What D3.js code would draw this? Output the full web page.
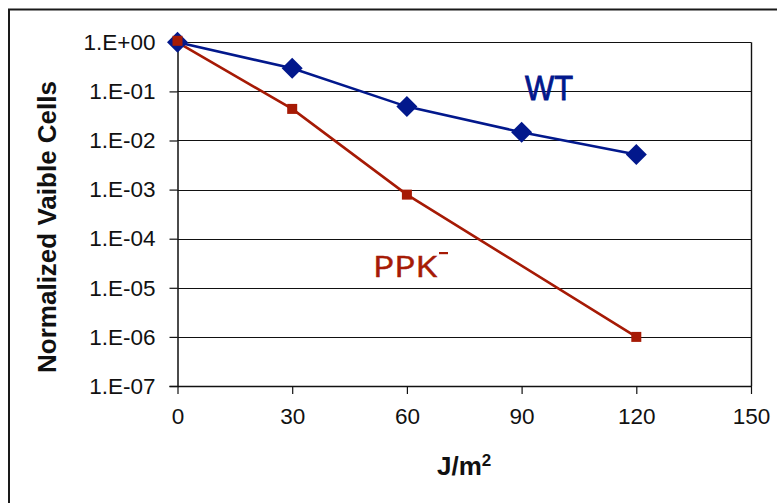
<!DOCTYPE html>
<html>
<head>
<meta charset="utf-8">
<script src="https://cdn.jsdelivr.net/npm/d3@7"></script>
<style>
  html, body { margin: 0; padding: 0; background: #fff; }
  svg { display: block; }
</style>
</head>
<body>
<svg id="chart" width="777" height="503"></svg>
<script>
// UV dose (J/m²) and survival fractions
const doses = [0, 30, 60, 90, 120];
const wtValues = [1, 0.295, 0.049, 0.0147, 0.0052];
const ppkDoses = [0, 30, 60, 120];
const ppkValues = [1, 0.044, 0.00079, 0.000001];

const xTicks = [0, 30, 60, 90, 120, 150];
const yTicks = [1, 1e-1, 1e-2, 1e-3, 1e-4, 1e-5, 1e-6, 1e-7];
const yTickLabels = ["1.E+00", "1.E-01", "1.E-02", "1.E-03", "1.E-04", "1.E-05", "1.E-06", "1.E-07"];

const blue = "#02188c";
const red = "#a61a05";

const svg = d3.select("#chart");
const x = d3.scaleLinear().domain([0, 150]).range([177.5, 751]);
const y = d3.scaleLog().domain([1e-7, 1]).range([386, 42.3]);

// outer frame
svg.append("rect")
  .attr("x", 9).attr("y", 9.5)
  .attr("width", 800).attr("height", 520)
  .attr("fill", "none").attr("stroke", "#1a1a1a").attr("stroke-width", 2);

// horizontal gridlines
svg.append("g").selectAll("line").data(yTicks.slice(0, -1)).join("line")
  .attr("x1", x(0)).attr("x2", x(150))
  .attr("y1", d => Math.round(y(d)) + 0.5).attr("y2", d => Math.round(y(d)) + 0.5)
  .attr("stroke", "#111").attr("stroke-width", 1.2);

// right border of plot area
svg.append("line")
  .attr("x1", x(150) + 0.5).attr("x2", x(150) + 0.5)
  .attr("y1", y(1)).attr("y2", y(1e-7))
  .attr("stroke", "#111").attr("stroke-width", 1.4);

// y axis
const yAxis = d3.axisLeft(y)
  .tickValues(yTicks)
  .tickFormat((d, i) => yTickLabels[i])
  .tickSize(8).tickPadding(14);
const gy = svg.append("g").attr("transform", `translate(${x(0)},0)`).call(yAxis);
gy.select(".domain").attr("stroke", "#111").attr("stroke-width", 1.5);
gy.selectAll(".tick line").attr("stroke", "#111").attr("stroke-width", 1.2);
gy.selectAll(".tick text")
  .attr("font-family", "'Liberation Sans', Arial, sans-serif")
  .attr("font-size", 22.5).attr("fill", "#111");

// x axis
const xAxis = d3.axisBottom(x)
  .tickValues(xTicks)
  .tickFormat(d3.format("d"))
  .tickSize(8).tickSizeOuter(0).tickPadding(14);
const gx = svg.append("g").attr("transform", `translate(0,${y(1e-7)})`).call(xAxis);
gx.select(".domain").attr("stroke", "#111").attr("stroke-width", 1.5);
gx.selectAll(".tick line").attr("stroke", "#111").attr("stroke-width", 1.2);
gx.selectAll(".tick text")
  .attr("font-family", "'Liberation Sans', Arial, sans-serif")
  .attr("font-size", 22.5).attr("fill", "#111");

// axis titles
svg.append("text")
  .attr("transform", `translate(56,${(79 + 375) / 2}) rotate(-90)`)
  .attr("text-anchor", "middle")
  .attr("font-family", "'Liberation Sans', Arial, sans-serif")
  .attr("font-weight", "bold").attr("font-size", 26).attr("fill", "#111")
  .text("Normalized Vaible Cells");

const xt = svg.append("text")
  .attr("x", 437).attr("y", 475)
  .attr("font-family", "'Liberation Sans', Arial, sans-serif")
  .attr("font-weight", "bold").attr("font-size", 26).attr("fill", "#111");
xt.append("tspan").text("J/m");
xt.append("tspan").attr("font-size", 17).attr("dy", -9).text("2");

// series lines
const line = d3.line().x(d => x(d[0])).y(d => y(d[1]));
const wtData = doses.map((d, i) => [d, wtValues[i]]);
const ppkData = ppkDoses.map((d, i) => [d, ppkValues[i]]);

svg.append("path").datum(wtData)
  .attr("d", line).attr("fill", "none")
  .attr("stroke", blue).attr("stroke-width", 2.6);
svg.append("path").datum(ppkData)
  .attr("d", line).attr("fill", "none")
  .attr("stroke", red).attr("stroke-width", 2.6);

// markers
svg.append("g").selectAll("path").data(wtData).join("path")
  .attr("transform", d => `translate(${x(d[0])},${y(d[1])})`)
  .attr("d", "M0,-10.5L10.5,0L0,10.5L-10.5,0Z")
  .attr("fill", blue);

svg.append("g").selectAll("rect").data(ppkData).join("rect")
  .attr("x", d => x(d[0]) - 5).attr("y", (d, i) => y(d[1]) - 5 - (i === 0 ? 1.5 : 0))
  .attr("width", 10).attr("height", 10)
  .attr("fill", red);

// series labels
svg.append("text")
  .attr("x", 525).attr("y", 99.5)
  .attr("font-family", "'Liberation Sans', Arial, sans-serif")
  .attr("font-size", 35)
  .attr("textLength", 48).attr("lengthAdjust", "spacingAndGlyphs")
  .attr("fill", blue).attr("stroke", blue).attr("stroke-width", 0.9)
  .text("WT");

const pl = svg.append("g");
pl.append("text")
  .attr("x", 373).attr("y", 277)
  .attr("font-family", "'Open Sans', 'DejaVu Sans', sans-serif")
  .attr("font-size", 30)
  .attr("textLength", 64).attr("lengthAdjust", "spacingAndGlyphs")
  .attr("fill", red).attr("stroke", red).attr("stroke-width", 0.5)
  .text("PPK");
pl.append("rect")
  .attr("x", 439).attr("y", 252).attr("width", 9).attr("height", 2.2)
  .attr("fill", red);
</script>
</body>
</html>
